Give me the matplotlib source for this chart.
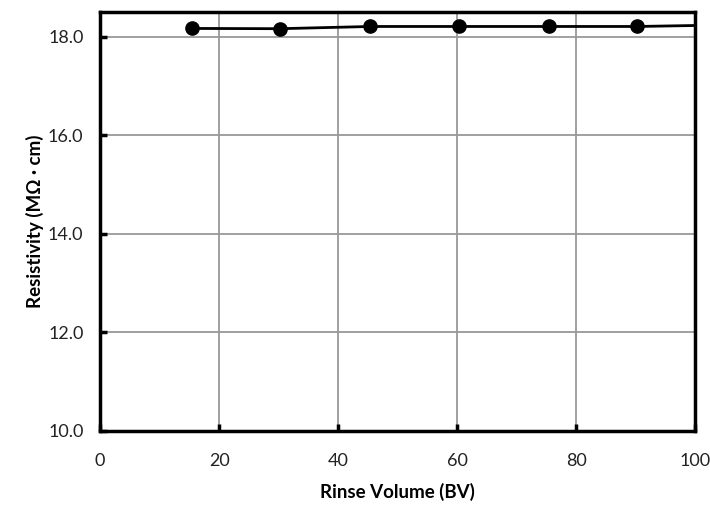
import matplotlib.pyplot as plt

# rinse volume (BV) and resistivity (MOhm cm)
rinse_volume = [15.4, 30.3, 45.4, 60.3, 75.4, 90.3, 105.0]
resistivity = [18.17, 18.165, 18.21, 18.21, 18.21, 18.21, 18.24]

x_ticks = [0, 20, 40, 60, 80, 100]
y_ticks = [10.0, 12.0, 14.0, 16.0, 18.0]

plt.rcParams['font.family'] = ['Lato', 'DejaVu Sans']

fig = plt.figure(figsize=(7.1, 5.08), dpi=100)
ax = fig.add_axes([0.141, 0.152, 0.838, 0.824])

ax.plot(rinse_volume, resistivity, color='black', linewidth=2,
        marker='o', markersize=9.5, clip_on=True, zorder=3)

ax.set_xlim(0, 100)
ax.set_ylim(10, 18.5)
ax.set_xticks(x_ticks)
ax.set_yticks(y_ticks)
ax.set_yticklabels([f'{v:.1f}' for v in y_ticks])

ax.grid(True, color='#999999', linewidth=1.3)
ax.set_axisbelow(True)

for spine in ax.spines.values():
    spine.set_linewidth(2.5)
    spine.set_color('black')

ax.tick_params(axis='both', direction='in', length=5, width=2.5,
               labelsize=13, colors='black', labelcolor='#222222')
ax.tick_params(axis='x', pad=16)
ax.tick_params(axis='y', pad=12)

ax.set_xlabel('Rinse Volume (BV)', fontsize=13.5, fontweight='bold', labelpad=10)
ax.set_ylabel('Resistivity (MΩ · cm)', fontsize=13.5, fontweight='bold', labelpad=3)

fig.savefig('out.png', dpi=100)
